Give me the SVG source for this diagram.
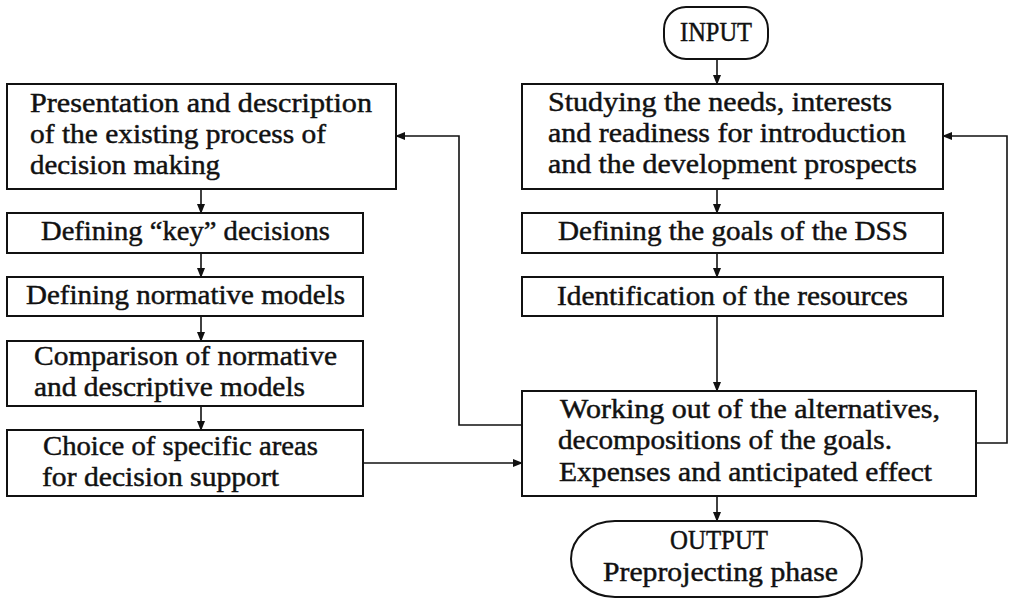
<svg xmlns="http://www.w3.org/2000/svg" width="1011" height="599" viewBox="0 0 1011 599">
<style>
.box{fill:#fff;stroke:#111;stroke-width:2}
.t{font-family:"Liberation Serif","Times New Roman",serif;font-size:27px;fill:#111;stroke:#111;stroke-width:0.45}
.c{fill:none;stroke:#111;stroke-width:1.6}
</style>
<defs>
<marker id="ah" markerWidth="10" markerHeight="8" refX="9" refY="4" orient="auto" markerUnits="userSpaceOnUse">
<path d="M0,0 L10,4 L0,8 Z" fill="#111"/>
</marker>
</defs>
<rect width="1011" height="599" fill="#fff"/>
<g id="connectors">
<path class="c" d="M201,189 V213" marker-end="url(#ah)"/>
<path class="c" d="M201,253 V277" marker-end="url(#ah)"/>
<path class="c" d="M201,316 V341" marker-end="url(#ah)"/>
<path class="c" d="M201,406 V430" marker-end="url(#ah)"/>
<path class="c" d="M717,59 V84" marker-end="url(#ah)"/>
<path class="c" d="M717,189 V213" marker-end="url(#ah)"/>
<path class="c" d="M717,253 V277" marker-end="url(#ah)"/>
<path class="c" d="M717,316 V391" marker-end="url(#ah)"/>
<path class="c" d="M717,496 V521" marker-end="url(#ah)"/>
<path class="c" d="M363,463 H522" marker-end="url(#ah)"/>
<path class="c" d="M522,425 H459 V136 H396" marker-end="url(#ah)"/>
<path class="c" d="M976,443 H1007 V136 H943" marker-end="url(#ah)"/>
</g>
<g id="input">
<rect class="box" x="664" y="7" width="104" height="52" rx="22" ry="22"/>
<text class="t" x="680" y="41" textLength="72" lengthAdjust="spacingAndGlyphs" font-size="22">INPUT</text>
</g>
<g id="presentation">
<rect class="box" x="7" y="84" width="389" height="105"/>
<text class="t" x="30" y="112" textLength="342" lengthAdjust="spacingAndGlyphs">Presentation and description</text>
<text class="t" x="30" y="143" textLength="296" lengthAdjust="spacingAndGlyphs">of the existing process of</text>
<text class="t" x="30" y="174" textLength="190" lengthAdjust="spacingAndGlyphs">decision making</text>
</g>
<g id="key">
<rect class="box" x="7" y="213" width="356" height="40"/>
<text class="t" x="41" y="240" textLength="289" lengthAdjust="spacingAndGlyphs">Defining “key” decisions</text>
</g>
<g id="normative">
<rect class="box" x="7" y="277" width="356" height="39"/>
<text class="t" x="26" y="304" textLength="319" lengthAdjust="spacingAndGlyphs">Defining normative models</text>
</g>
<g id="comparison">
<rect class="box" x="7" y="341" width="356" height="65"/>
<text class="t" x="34" y="365" textLength="303" lengthAdjust="spacingAndGlyphs">Comparison of normative</text>
<text class="t" x="34" y="396" textLength="271" lengthAdjust="spacingAndGlyphs">and descriptive models</text>
</g>
<g id="choice">
<rect class="box" x="7" y="430" width="356" height="66"/>
<text class="t" x="43" y="455" textLength="275" lengthAdjust="spacingAndGlyphs">Choice of specific areas</text>
<text class="t" x="42" y="486" textLength="237" lengthAdjust="spacingAndGlyphs">for decision support</text>
</g>
<g id="studying">
<rect class="box" x="522" y="84" width="421" height="105"/>
<text class="t" x="548" y="111" textLength="344" lengthAdjust="spacingAndGlyphs">Studying the needs, interests</text>
<text class="t" x="548" y="142" textLength="358" lengthAdjust="spacingAndGlyphs">and readiness for introduction</text>
<text class="t" x="548" y="173" textLength="369" lengthAdjust="spacingAndGlyphs">and the development prospects</text>
</g>
<g id="goals">
<rect class="box" x="522" y="213" width="421" height="40"/>
<text class="t" x="558" y="240" textLength="350" lengthAdjust="spacingAndGlyphs">Defining the goals of the DSS</text>
</g>
<g id="resources">
<rect class="box" x="522" y="277" width="421" height="39"/>
<text class="t" x="557" y="305" textLength="351" lengthAdjust="spacingAndGlyphs">Identification of the resources</text>
</g>
<g id="working">
<rect class="box" x="522" y="391" width="454" height="105"/>
<text class="t" x="560" y="418" textLength="380" lengthAdjust="spacingAndGlyphs">Working out of the alternatives,</text>
<text class="t" x="558" y="449" textLength="334" lengthAdjust="spacingAndGlyphs">decompositions of the goals.</text>
<text class="t" x="559" y="481" textLength="373" lengthAdjust="spacingAndGlyphs">Expenses and anticipated effect</text>
</g>
<g id="output">
<rect class="box" x="571" y="521" width="291" height="76" rx="44" ry="38"/>
<text class="t" x="670" y="549" textLength="98" lengthAdjust="spacingAndGlyphs" font-size="23">OUTPUT</text>
<text class="t" x="603" y="581" textLength="235" lengthAdjust="spacingAndGlyphs">Preprojecting phase</text>
</g>
</svg>
